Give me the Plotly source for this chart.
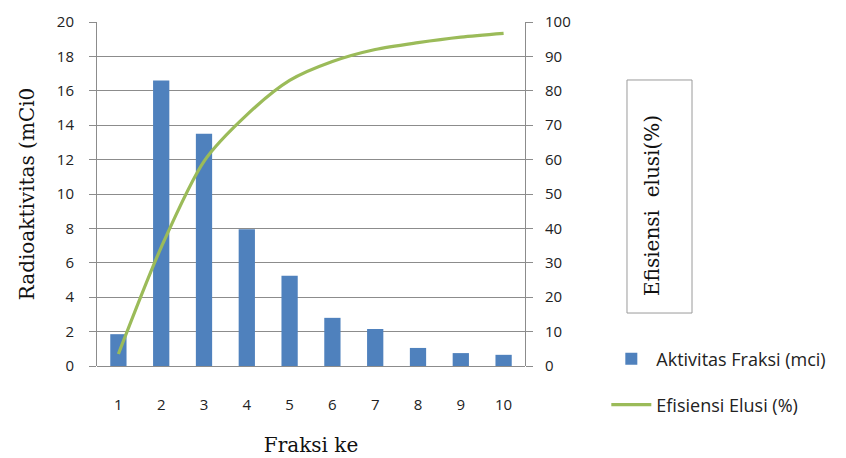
import plotly.graph_objects as go

fraksi = [1, 2, 3, 4, 5, 6, 7, 8, 9, 10]
aktivitas = [1.85, 16.6, 13.5, 7.95, 5.25, 2.8, 2.15, 1.05, 0.75, 0.65]
efisiensi = [3.5, 34.5, 59.5, 73.0, 83.0, 88.5, 92.0, 94.0, 95.6, 96.7]

left_ticks = [0, 2, 4, 6, 8, 10, 12, 14, 16, 18, 20]
right_ticks = [0, 10, 20, 30, 40, 50, 60, 70, 80, 90, 100]

bar_color = "#4F81BD"
line_color = "#9BBB59"
grid_color = "#8C8C8C"
sans = "Open Sans, Lato, sans-serif"
tick_font = dict(family=sans, size=15, color="#222222")
serif = dict(family="DejaVu Serif, Liberation Serif, serif", size=20, color="#111111")
legend_font = dict(family=sans, size=18, color="#222222")

fig = go.Figure()
fig.add_trace(go.Bar(
    x=fraksi, y=aktivitas, name="Aktivitas Fraksi (mci)",
    marker=dict(color=bar_color, line=dict(width=0)),
    width=0.38, yaxis="y", legend="legend",
))
fig.add_trace(go.Scatter(
    x=fraksi, y=efisiensi, name="Efisiensi Elusi (%)", mode="lines",
    line=dict(color=line_color, width=3.2, shape="spline", smoothing=0.8),
    yaxis="y2", legend="legend2",
))

fig.update_layout(
    width=838, height=450,
    margin=dict(l=89, r=321, t=14, b=92, autoexpand=False),
    paper_bgcolor="white", plot_bgcolor="white",
    showlegend=True,
    xaxis=dict(
        range=[0.5, 10.5], tickvals=fraksi, ticktext=[str(v) for v in fraksi],
        showgrid=False, showline=False, zeroline=False, automargin=False,
        ticks="", ticklabelstandoff=28, tickfont=tick_font,
        title=dict(text="Fraksi ke", font=serif, standoff=24),
    ),
    yaxis=dict(
        range=[0, 20], tickvals=left_ticks, showgrid=True, gridcolor=grid_color,
        gridwidth=1, showline=True, linecolor=grid_color, linewidth=1,
        zeroline=True, zerolinecolor=grid_color, zerolinewidth=1,
        ticks="outside", ticklen=7, tickcolor=grid_color, tickfont=tick_font,
        ticklabelstandoff=12, automargin=False,
        title=dict(text="Radioaktivitas (mCi0", font=serif, standoff=16),
    ),
    yaxis2=dict(
        range=[0, 100], tickvals=right_ticks, overlaying="y", side="right",
        showgrid=False, showline=True, linecolor=grid_color, linewidth=1,
        zeroline=False, ticks="outside", ticklen=7, tickcolor=grid_color,
        tickfont=tick_font, ticklabelstandoff=9, automargin=False,
    ),
    legend=dict(
        x=1.19, y=0.02, xanchor="left", yanchor="middle",
        font=legend_font, bgcolor="rgba(0,0,0,0)", itemwidth=40,
    ),
    legend2=dict(
        x=1.19, y=-0.113, xanchor="left", yanchor="middle",
        font=legend_font, bgcolor="rgba(0,0,0,0)", itemwidth=40,
    ),
    shapes=[dict(
        type="rect", xref="paper", yref="paper",
        x0=1.2383, x1=1.3902, y0=0.154, y1=0.8314,
        line=dict(color="#9A9A9A", width=1), fillcolor="rgba(0,0,0,0)",
    )],
    annotations=[dict(
        text="Efisiensi  elusi(%)", textangle=-90,
        xref="paper", yref="paper", x=1.2967, y=0.468,
        xanchor="center", yanchor="middle", showarrow=False,
        font=serif,
    )],
)

fig.write_html("out.html")
